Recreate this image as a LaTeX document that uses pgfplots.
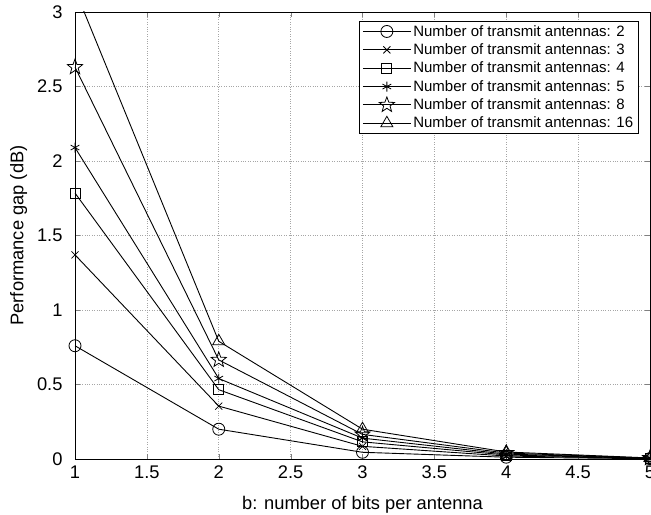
\documentclass[border=0pt]{standalone}
\usepackage{fontspec}
\setmainfont{Liberation Sans}
\usepackage{pgfplots}
\pgfplotsset{compat=1.18}

% open five-pointed star, like MATLAB's pentagram
\pgfdeclareplotmark{pentagram}{%
  \pgfpathmoveto{\pgfpointpolar{90}{\pgfplotmarksize}}%
  \pgfpathlineto{\pgfpointpolar{126}{0.42*\pgfplotmarksize}}%
  \pgfpathlineto{\pgfpointpolar{162}{\pgfplotmarksize}}%
  \pgfpathlineto{\pgfpointpolar{198}{0.42*\pgfplotmarksize}}%
  \pgfpathlineto{\pgfpointpolar{234}{\pgfplotmarksize}}%
  \pgfpathlineto{\pgfpointpolar{270}{0.42*\pgfplotmarksize}}%
  \pgfpathlineto{\pgfpointpolar{306}{\pgfplotmarksize}}%
  \pgfpathlineto{\pgfpointpolar{342}{0.42*\pgfplotmarksize}}%
  \pgfpathlineto{\pgfpointpolar{18}{\pgfplotmarksize}}%
  \pgfpathlineto{\pgfpointpolar{54}{0.42*\pgfplotmarksize}}%
  \pgfpathclose
  \pgfusepathqstroke
}

\tikzset{
  ser/.style={black, line width=0.9pt, mark options={solid, fill=none, line width=0.8pt}}
}

\begin{document}
\begin{tikzpicture}
\begin{axis}[
  name=ax,
  scale only axis,
  width=575pt, height=447pt,
  xmin=1, xmax=5, ymin=0, ymax=3,
  xtick={1,1.5,...,5}, ytick={0,0.5,...,3},
  tick align=inside,
  major tick length=5pt,
  grid=major,
  grid style={dotted, gray!70, line width=0.7pt},
  axis line style={line width=0.7pt},
  /pgf/number format/assume math mode=true,
  tick label style={font=\fontsize{18.3}{18.3}\selectfont},
  xticklabel style={yshift=-3pt},
  yticklabel style={xshift=-9pt},
  label style={font=\fontsize{18.3}{18.3}\selectfont},
  xlabel={b: number of bits per antenna},
  ylabel={Performance gap (dB)},
  ylabel style={yshift=3pt},
  xlabel style={yshift=-11pt},
  legend cell align=left,
  legend style={at={(0.98,0.98)}, anchor=north east,
    font=\fontsize{15}{15}\selectfont, draw=black, line width=0.7pt,
    row sep=2pt, inner xsep=3pt, inner ysep=2pt},
  legend image code/.code={%
    \draw[mark repeat=2, mark phase=2]
      plot coordinates {(0pt,0pt) (24pt,0pt) (48pt,0pt)};},
]
\addplot[ser, mark=o, mark size=6pt] coordinates {
  (1,0.76) (2,0.20) (3,0.045) (4,0.012) (5,0.002)};
\addplot[ser, mark=x, mark size=5pt] coordinates {
  (1,1.37) (2,0.355) (3,0.085) (4,0.02) (5,0.003)};
\addplot[ser, mark=square, mark size=5pt] coordinates {
  (1,1.785) (2,0.465) (3,0.115) (4,0.027) (5,0.004)};
\addplot[ser, mark=asterisk, mark size=5pt] coordinates {
  (1,2.09) (2,0.54) (3,0.14) (4,0.033) (5,0.005)};
\addplot[ser, mark=pentagram, mark size=8pt] coordinates {
  (1,2.63) (2,0.665) (3,0.165) (4,0.04) (5,0.006)};
\addplot[ser, mark=triangle, mark size=7pt] coordinates {
  (1,3.15) (2,0.79) (3,0.20) (4,0.047) (5,0.007)};
\legend{Number of transmit antennas: 2,
        Number of transmit antennas: 3,
        Number of transmit antennas: 4,
        Number of transmit antennas: 5,
        Number of transmit antennas: 8,
        Number of transmit antennas: 16}
\end{axis}
\pgfresetboundingbox
\useasboundingbox ([xshift=-75pt,yshift=-56pt]ax.south west)
  rectangle ([xshift=1pt,yshift=12pt]ax.north east);
\end{tikzpicture}
\end{document}
